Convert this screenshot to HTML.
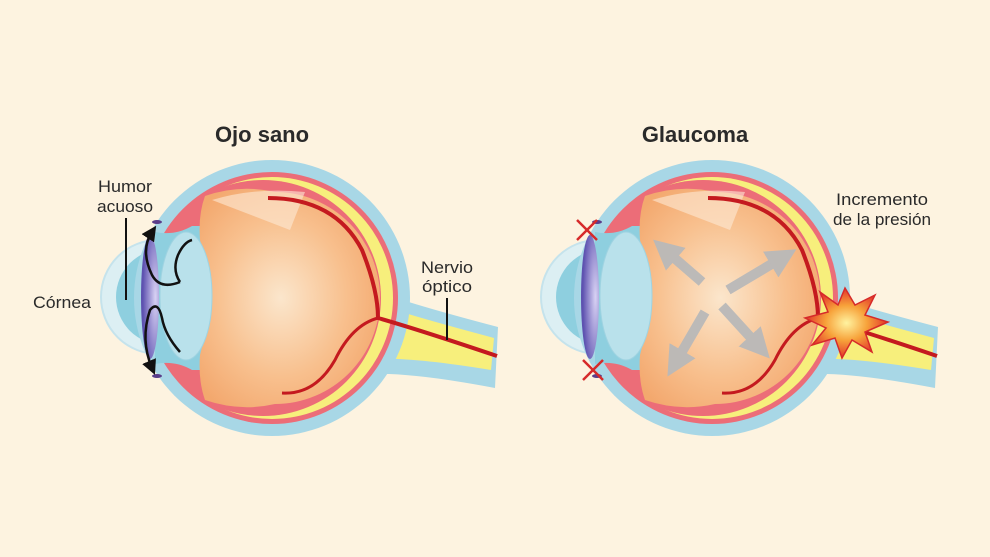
<!DOCTYPE html>
<html><head><meta charset="utf-8"><style>
html,body{margin:0;padding:0;background:#fdf3e0;}
svg{display:block}
text{font-family:"Liberation Sans",sans-serif;fill:#2a2a2a}
</style></head><body>
<svg width="990" height="557" viewBox="0 0 990 557">
<defs>
<radialGradient id="vit" cx="0.45" cy="0.5" r="0.6">
<stop offset="0" stop-color="#fbe6cc"/><stop offset="0.6" stop-color="#f8c08e"/><stop offset="1" stop-color="#f3a86e"/></radialGradient>
<radialGradient id="iris" cx="0.8" cy="0.5" r="0.7">
<stop offset="0" stop-color="#d8d2f4"/><stop offset="1" stop-color="#5e52b0"/></radialGradient>
<radialGradient id="boom" cx="0.5" cy="0.5" r="0.5">
<stop offset="0" stop-color="#fff3a0"/><stop offset="0.5" stop-color="#f7a23a"/><stop offset="1" stop-color="#e2342a"/></radialGradient>
<g id="eye">
<!-- nerve -->
<path d="M360 285 Q395 300 498 327 L495 388 Q400 370 360 375 Z" fill="#a8d7e6"/>
<path d="M365 300 Q400 313 494 338 L491 370 Q400 355 365 360 Z" fill="#f7ef7c"/>
<!-- cornea -->
<circle cx="158" cy="297" r="57" fill="#dceff3" stroke="#c5e3ec" stroke-width="2"/>
<circle cx="164" cy="297" r="48" fill="#8ecfdf"/>
<!-- outer layers -->
<circle cx="272" cy="298" r="138" fill="#a8d7e6"/>
<circle cx="272" cy="298" r="126" fill="#ec6d78"/>
<circle cx="272" cy="298" r="121" fill="#f7ef7c"/>
<circle cx="263" cy="298" r="118" fill="#ec6d78"/>
<!-- anterior chamber -->
<path d="M155 232 Q175 236 192 226 L205 226 L205 370 L192 370 Q175 360 155 364 Z" fill="#8ecfdf"/>
<ellipse cx="150" cy="297" rx="9" ry="62" fill="url(#iris)"/>
<!-- vitreous -->
<path d="M205 196 Q240 184 275 192 A105 106 0 0 1 275 404 Q240 412 205 400 Q198 380 200 355 Q215 300 200 240 Q198 215 205 196Z" fill="url(#vit)"/>
<path d="M212 200 Q255 187 305 192 L290 230 Z" fill="#fde9d6" opacity="0.6"/>
<!-- lens -->
<ellipse cx="186" cy="296" rx="26" ry="64" fill="#b9e1eb" stroke="#9fd3e1"/>
<!-- vessels -->
<path d="M268 198 Q335 198 362 250 Q378 290 378 318 Q420 330 497 356" fill="none" stroke="#c41a1f" stroke-width="4"/>
<path d="M378 318 Q352 325 335 360 Q315 395 282 393" fill="none" stroke="#c41a1f" stroke-width="3"/>
<ellipse cx="157" cy="222" rx="5" ry="2" fill="#5a3d8a"/>
<ellipse cx="157" cy="376" rx="5" ry="2" fill="#5a3d8a"/>
</g>
<marker id="ah" markerWidth="6" markerHeight="6" refX="3" refY="3" orient="auto"><path d="M0 0L6 3L0 6Z" fill="#111"/></marker>
<marker id="gh" markerWidth="3" markerHeight="3" refX="0.5" refY="1.5" orient="auto"><path d="M0 0L3 1.5L0 3Z" fill="#b9b9b9"/></marker>
</defs>
<use href="#eye"/>
<use href="#eye" transform="translate(440,0)"/>

<text x="262" y="142" font-size="22" font-weight="bold" text-anchor="middle">Ojo sano</text>
<text x="695" y="142" font-size="22" font-weight="bold" text-anchor="middle">Glaucoma</text>
<text x="125" y="192" font-size="17" text-anchor="middle" textLength="54" lengthAdjust="spacingAndGlyphs">Humor</text>
<text x="125" y="212" font-size="17" text-anchor="middle" textLength="56" lengthAdjust="spacingAndGlyphs">acuoso</text>
<line x1="126" y1="218" x2="126" y2="300" stroke="#111" stroke-width="2"/>
<text x="62" y="308" font-size="17" text-anchor="middle" textLength="58" lengthAdjust="spacingAndGlyphs">Córnea</text>
<text x="447" y="273" font-size="17" text-anchor="middle" textLength="52" lengthAdjust="spacingAndGlyphs">Nervio</text>
<text x="447" y="292" font-size="17" text-anchor="middle" textLength="50" lengthAdjust="spacingAndGlyphs">óptico</text>
<line x1="447" y1="298" x2="447" y2="340" stroke="#111" stroke-width="2"/>
<text x="882" y="205" font-size="17" text-anchor="middle" textLength="92" lengthAdjust="spacingAndGlyphs">Incremento</text>
<text x="882" y="225" font-size="17" text-anchor="middle" textLength="98" lengthAdjust="spacingAndGlyphs">de la presión</text>

<path d="M180 282 Q160 290 152 275 Q140 250 152 232" fill="none" stroke="#111" stroke-width="2.5" marker-end="url(#ah)"/>
<path d="M180 282 Q172 270 178 255 Q184 242 192 240" fill="none" stroke="#111" stroke-width="2.5"/>
<path d="M180 352 Q165 335 162 318 Q158 300 150 310 Q140 340 152 368" fill="none" stroke="#111" stroke-width="2.5" marker-end="url(#ah)"/>

<g stroke="#d62a2a" stroke-width="2.5"><line x1="577" y1="220" x2="597" y2="240"/><line x1="597" y1="220" x2="577" y2="240"/><line x1="583" y1="360" x2="603" y2="380"/><line x1="603" y1="360" x2="583" y2="380"/></g>

<g stroke="#b9b9b9" stroke-width="10" stroke-linecap="butt" opacity="0.95" fill="none">
<line x1="702" y1="282" x2="672" y2="256" marker-end="url(#gh)"/>
<line x1="728" y1="290" x2="775" y2="262" marker-end="url(#gh)"/>
<line x1="705" y1="312" x2="680" y2="355" marker-end="url(#gh)"/>
<line x1="722" y1="306" x2="753" y2="340" marker-end="url(#gh)"/>
</g>
<path d="M845 288 L855 305 L875 295 L865 315 L888 322 L865 332 L872 352 L852 340 L842 358 L835 338 L812 345 L826 328 L805 318 L828 312 L820 292 L838 305Z" fill="url(#boom)" stroke="#d62a2a" stroke-width="1.5"/>
</svg>
</body></html>
